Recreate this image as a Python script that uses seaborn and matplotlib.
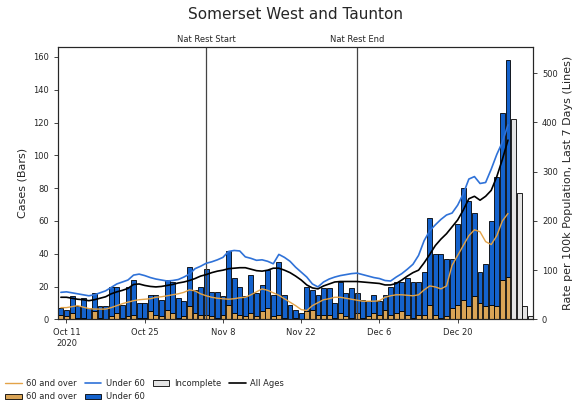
import pandas as pd
import seaborn as sns
import matplotlib.pyplot as plt
from matplotlib.lines import Line2D
from matplotlib.patches import Patch

# Daily cases, 10 Oct - 29 Dec 2020 (complete days)
total_cases = [7, 6, 14, 8, 13, 7, 16, 8, 8, 20, 20, 9, 20, 24, 10, 10, 15, 15, 12, 24,
               23, 13, 11, 32, 18, 20, 31, 17, 17, 14, 42, 25, 20, 14, 27, 16, 21, 30, 15, 35,
               15, 9, 6, 4, 20, 18, 15, 19, 19, 10, 23, 16, 19, 16, 12, 11, 15, 11, 15, 20,
               23, 23, 25, 23, 23, 29, 62, 40, 40, 37, 37, 58, 80, 72, 65, 29, 34, 60, 87, 126,
               158]
over60_cases = [3, 2, 4, 1, 1, 0, 5, 1, 0, 2, 4, 1, 2, 3, 1, 1, 5, 3, 2, 6,
                4, 1, 2, 8, 4, 3, 3, 2, 1, 3, 9, 4, 3, 2, 4, 2, 5, 7, 2, 3,
                1, 0, 1, 0, 5, 6, 3, 3, 3, 1, 4, 2, 1, 4, 1, 2, 4, 3, 6, 3,
                4, 5, 3, 1, 3, 3, 9, 3, 1, 2, 7, 9, 12, 8, 14, 10, 8, 9, 8, 24,
                26]
# Incomplete days, 30 Dec - 2 Jan
incomplete_cases = [122, 77, 8, 2]

# Rate per 100k, last 7 days
rate_all = [45, 45, 43, 41, 40, 38, 40, 43, 46, 52, 56, 59, 63, 71, 72, 69, 67, 66, 67, 69,
            71, 74, 76, 79, 83, 88, 91, 95, 98, 100, 103, 104, 105, 105, 102, 99, 98, 100, 104, 104,
            100, 95, 88, 80, 70, 64, 62, 68, 72, 76, 77, 77, 77, 77, 76, 75, 74, 73, 70, 70,
            73, 80, 88, 95, 100, 115, 132, 150, 163, 174, 188, 202, 222, 245, 250, 242, 250, 262, 290, 325,
            364]
rate_under60 = [55, 56, 54, 52, 50, 48, 50, 54, 58, 65, 72, 76, 80, 90, 92, 89, 85, 82, 80, 78,
                79, 81, 86, 92, 103, 108, 114, 117, 121, 126, 138, 140, 139, 127, 124, 120, 121, 118, 113, 132,
                126, 118, 106, 96, 86, 72, 66, 76, 82, 86, 89, 91, 93, 94, 91, 88, 85, 83, 79, 78,
                86, 93, 102, 112, 130, 160, 180, 192, 203, 212, 216, 232, 255, 285, 290, 276, 278, 305, 335, 360,
                395]
rate_over60 = [24, 24, 26, 28, 25, 22, 21, 21, 21, 24, 28, 32, 35, 38, 40, 41, 42, 45, 46, 48,
               50, 52, 55, 60, 58, 52, 48, 45, 43, 42, 41, 42, 44, 45, 50, 56, 62, 59, 54, 49,
               42, 35, 28, 20, 18, 28, 34, 40, 42, 45, 45, 43, 41, 39, 37, 37, 37, 38, 45, 48,
               50, 50, 49, 48, 50, 60, 68, 66, 62, 68, 110, 130, 150, 170, 182, 178, 158, 152, 170, 200,
               215]

tick_dates = ["2020-10-11", "2020-10-25", "2020-11-08", "2020-11-22", "2020-12-06", "2020-12-20"]
tick_labels = ["Oct 11\n2020", "Oct 25", "Nov 8", "Nov 22", "Dec 6", "Dec 20"]
nat_rest = {"Nat Rest Start": "2020-11-05", "Nat Rest End": "2020-12-02"}

dates = pd.date_range("2020-10-10", periods=len(total_cases))
inc_dates = pd.date_range(dates[-1] + pd.Timedelta(days=1), periods=len(incomplete_cases))
under60_cases = [t - o for t, o in zip(total_cases, over60_cases)]

df = pd.DataFrame({"date": dates, "All Ages": rate_all, "Under 60": rate_under60,
                   "60 and over": rate_over60})

sns.set_style("ticks")
plt.rcParams["font.family"] = ["DejaVu Sans"]

c_over = "#d9a456"
c_under = "#1462cc"
c_line_over = "#e3a348"
c_line_under = "#2f72d8"

fig = plt.figure(figsize=(5.73, 4.09), dpi=100)
ax = fig.add_axes([0.101, 0.219, 0.829, 0.666])

w = 0.88
ax.bar(dates, over60_cases, width=w, color=c_over, edgecolor="black", linewidth=0.6)
ax.bar(dates, under60_cases, width=w, bottom=over60_cases, color=c_under,
       edgecolor="black", linewidth=0.6)
ax.bar(inc_dates, incomplete_cases, width=w, color="#e4e4e4", edgecolor="black", linewidth=0.6)

ax.set_ylim(0, 166)
ax.set_yticks(range(0, 161, 20))
ax.set_xlim(pd.Timestamp("2020-10-09 11:00"), pd.Timestamp("2021-01-02 11:00"))
ax.set_xticks(pd.to_datetime(tick_dates))
ax.set_xticklabels(tick_labels)
ax.set_ylabel("Cases (Bars)", fontsize=8)
ax.tick_params(labelsize=6, length=3, width=0.6)

for label, d in nat_rest.items():
    ax.axvline(pd.Timestamp(d), color="#444444", linewidth=0.9)
    ax.text(pd.Timestamp(d), 168, label, ha="center", va="bottom", fontsize=6)

ax2 = ax.twinx()
sns.lineplot(data=df, x="date", y="60 and over", ax=ax2, color=c_line_over, linewidth=1)
sns.lineplot(data=df, x="date", y="Under 60", ax=ax2, color=c_line_under, linewidth=1.2)
sns.lineplot(data=df, x="date", y="All Ages", ax=ax2, color="black", linewidth=1.2)
ax2.set_ylim(0, 553)
ax2.set_yticks(range(0, 501, 100))
ax2.set_ylabel("Rate per 100k Population, Last 7 Days (Lines)", fontsize=8)
ax2.set_xlabel("")
ax2.tick_params(labelsize=6, length=3, width=0.6)

for a in (ax, ax2):
    for s in a.spines.values():
        s.set_linewidth(0.8)

ax.set_title("Somerset West and Taunton", fontsize=11, pad=20)

handles = [
    Line2D([], [], color=c_line_over, lw=1),
    Patch(facecolor=c_over, edgecolor="black", linewidth=0.6),
    Line2D([], [], color=c_line_under, lw=1.2),
    Patch(facecolor=c_under, edgecolor="black", linewidth=0.6),
    Patch(facecolor="#e4e4e4", edgecolor="black", linewidth=0.6),
    Line2D([], [], color="black", lw=1.2),
]
labels = ["60 and over", "60 and over", "Under 60", "Under 60", "Incomplete", "All Ages"]
fig.legend(handles, labels, loc="upper left", bbox_to_anchor=(0.0, 0.085), ncol=4,
           frameon=False, fontsize=6, handlelength=2, columnspacing=1.0,
           handletextpad=0.5, labelspacing=0.5, borderaxespad=0.2)

fig.savefig("out.png", dpi=100)
